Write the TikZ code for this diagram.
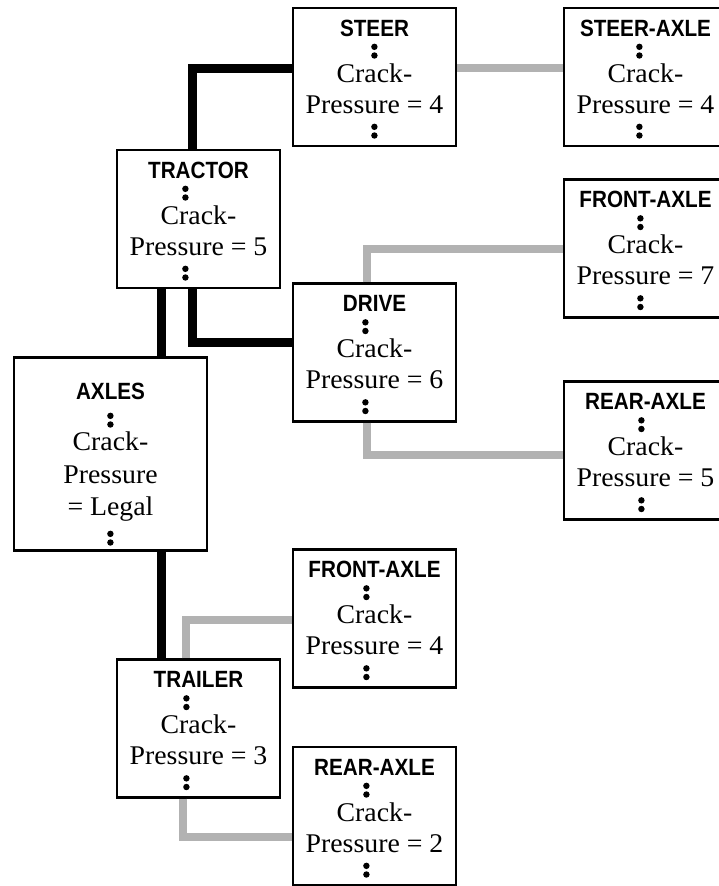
\documentclass[tikz,border=0pt]{standalone}
\usepackage{fontspec}
\setmainfont{Liberation Serif}[FakeStretch=1.03]
\newfontfamily\headfont{Liberation Sans}[FakeStretch=0.88]
\newfontfamily\dotfont{Liberation Serif}[FakeBold=7]

% colon, shifted sideways by #1 without moving the line's centre
\newcommand{\vcolon}[1]{\kern#1{\dotfont\bfseries :}\kern-#1}
% title, colon, two body lines, colon
\newcommand{\unittext}[3][0pt]{\rule{0pt}{20pt}{\fontsize{23.5pt}{31pt}\headfont\bfseries #2}\\[-10pt]\vcolon{#1}\\[-6pt]#3\\[-7pt]\vcolon{#1}}

\begin{document}
\begin{tikzpicture}[x=1pt,y=-1pt]

% ---------- styles ----------
\tikzset{
  unit/.style={draw, line width=2.4pt, fill=white, minimum width=163pt,
    minimum height=138pt, inner sep=0pt, align=center,
    font={\fontsize{27pt}{31pt}\selectfont}},
  trunk/.style={line width=9pt, black},
  branch/.style={line width=8pt, black!30}
}

\useasboundingbox (0,0) rectangle (719,886);

% ---------- tractor side ----------
\node[unit] (steer) at (374.5,77) {\unittext{STEER}{Crack-\\Pressure = 4}};
\node[unit] (steeraxle) at (645.5,77) {\unittext[-6pt]{STEER-AXLE}{Crack-\\Pressure = 4}};
\node[unit] (tractor) at (198.5,219) {\unittext[-13pt]{TRACTOR}{Crack-\\Pressure = 5}};
\node[unit] (frontaxle) at (645.5,248.5) {\unittext[-5pt]{FRONT-AXLE}{Crack-\\Pressure = 7}};
\node[unit] (drive) at (374.5,352.5) {\unittext[-9pt]{DRIVE}{Crack-\\Pressure = 6}};
\node[unit] (rearaxle) at (645.5,450.5) {\unittext[-4pt]{REAR-AXLE}{Crack-\\Pressure = 5}};

% ---------- root ----------
\node[unit, minimum width=193pt, minimum height=193pt,
  font={\fontsize{27pt}{32pt}\selectfont}] (axles) at (110.5,454)
  {\rule{0pt}{36pt}{\fontsize{23.5pt}{31pt}\headfont\bfseries AXLES}\\[-5pt]\vcolon{0pt}\\[-8pt]
   Crack-\\[1pt]Pressure\\= Legal\\[-3pt]\vcolon{0pt}};

% ---------- trailer side ----------
\node[unit] (trlfront) at (374.5,618.5) {\unittext[-8pt]{FRONT-AXLE}{Crack-\\Pressure = 4}};
\node[unit] (trailer) at (198.5,728.5) {\unittext[-12pt]{TRAILER}{Crack-\\Pressure = 3}};
\node[unit] (trlrear) at (374.5,816) {\unittext[-8pt]{REAR-AXLE}{Crack-\\Pressure = 2}};

% ---------- black links ----------
\coordinate (spine) at (161,0);
\draw[trunk] (tractor.south -| spine) -- (axles.north -| spine);
\draw[trunk] (axles.south -| spine) -- (trailer.north -| spine);
\draw[trunk] ([xshift=-6pt]tractor.north) |- ([yshift=9pt]steer.west);
\draw[trunk] ([xshift=-6pt]tractor.south) |- ([yshift=10pt]drive.west);

% ---------- grey links ----------
\draw[branch] ([yshift=9pt]steer.east) -- ([yshift=9pt]steeraxle.west);
\draw[branch] ([xshift=-7.5pt]drive.north) |- (frontaxle.west);
\draw[branch] ([xshift=-7.5pt]drive.south) |- ([yshift=-4pt]rearaxle.west);
\draw[branch] ([xshift=-12.5pt]trailer.north) |- ([yshift=-1.5pt]trlfront.west);
\draw[branch] ([xshift=-15.5pt]trailer.south) |- ([yshift=-21pt]trlrear.west);

\end{tikzpicture}
\end{document}
